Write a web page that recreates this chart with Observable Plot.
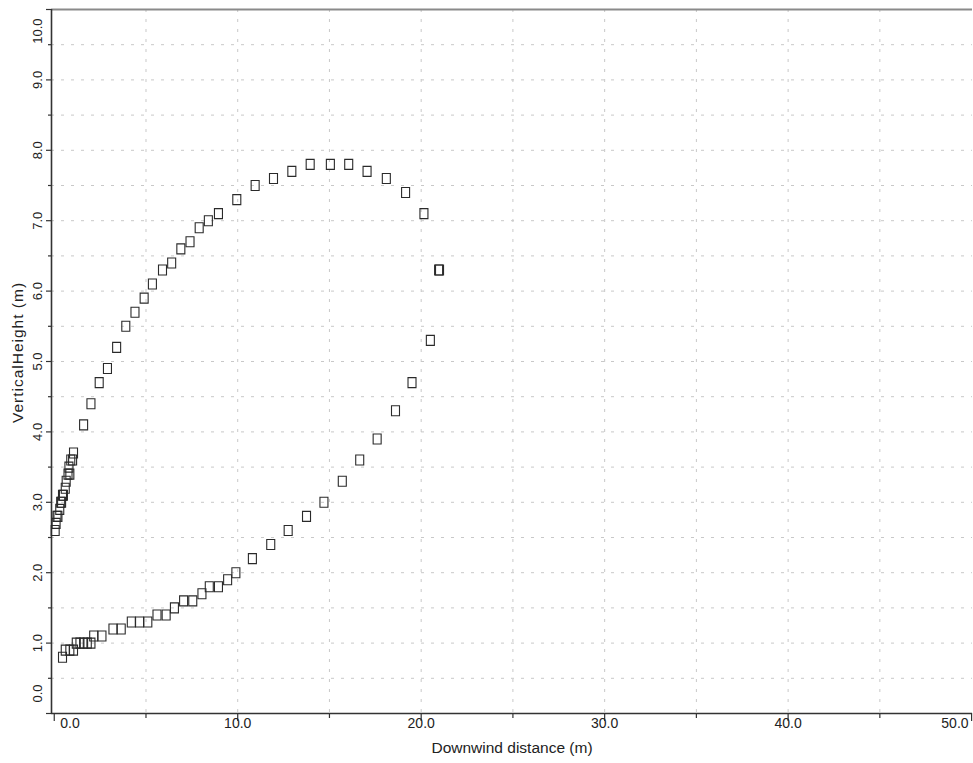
<!DOCTYPE html>
<html>
<head>
<meta charset="utf-8">
<script src="https://cdn.jsdelivr.net/npm/d3@7"></script>
<script src="https://cdn.jsdelivr.net/npm/@observablehq/plot@0.6"></script>
<style>
  html, body { margin: 0; padding: 0; background: #fff; }
  #chart { width: 973px; height: 763px; }
  .ytitle text { letter-spacing: 1px; }
</style>
</head>
<body>
<div id="chart"></div>
<script>
// ---- Data ----
const downwind = [
  0.05, 0.1, 0.15, 0.2, 0.3, 0.35, 0.4, 0.45, 0.5, 0.6, 0.65, 0.75, 0.85, 0.8, 0.9, 1.0, 1.05,
  1.6, 2.0, 2.45, 2.9, 3.4, 3.9, 4.4, 4.9, 5.35, 5.9, 6.4, 6.9, 7.4, 7.9, 8.4, 8.95,
  9.95, 10.95, 11.95, 12.95, 13.95, 15.05, 16.05, 17.05, 18.1, 19.15, 20.15, 20.95, 21.0,
  20.5, 19.5, 18.6, 17.6, 16.65, 15.7, 14.7, 13.75, 12.75, 11.8, 10.8, 9.9,
  9.45, 8.95, 8.45, 8.05, 7.55, 7.05, 6.55, 6.1, 5.6, 5.1, 4.65, 4.2, 3.65, 3.2,
  2.6, 2.15, 2.0, 1.8, 1.6, 1.4, 1.2, 1.05, 0.85, 0.6, 0.45
];
const vertical = [
  2.6, 2.7, 2.8, 2.8, 2.9, 3.0, 3.0, 3.1, 3.1, 3.2, 3.3, 3.4, 3.4, 3.5, 3.6, 3.6, 3.7,
  4.1, 4.4, 4.7, 4.9, 5.2, 5.5, 5.7, 5.9, 6.1, 6.3, 6.4, 6.6, 6.7, 6.9, 7.0, 7.1,
  7.3, 7.5, 7.6, 7.7, 7.8, 7.8, 7.8, 7.7, 7.6, 7.4, 7.1, 6.3, 6.3,
  5.3, 4.7, 4.3, 3.9, 3.6, 3.3, 3.0, 2.8, 2.6, 2.4, 2.2, 2.0,
  1.9, 1.8, 1.8, 1.7, 1.6, 1.6, 1.5, 1.4, 1.4, 1.3, 1.3, 1.3, 1.2, 1.2,
  1.1, 1.1, 1.0, 1.0, 1.0, 1.0, 1.0, 0.9, 0.9, 0.9, 0.8
];

const xTickValues = [0, 10, 20, 30, 40, 50];
const xTickLabels = ["0.0", "10.0", "20.0", "30.0", "40.0", "50.0"];
const xMinorTicks = [5, 15, 25, 35, 45];
const yTickValues = [0, 1, 2, 3, 4, 5, 6, 7, 8, 9, 10];
const yTickLabels = ["0.0", "1.0", "2.0", "3.0", "4.0", "5.0", "6.0", "7.0", "8.0", "9.0", "10.0"];
const yMinorTicks = [0.5, 1.5, 2.5, 3.5, 4.5, 5.5, 6.5, 7.5, 8.5, 9.5];
const xTitle = "Downwind distance (m)";
const yTitle = "VerticalHeight (m)";
const xDomain = [-0.15, 50.05];
const yDomain = [0, 10];

// ---- Build tables ----
const points = downwind.map((x, i) => ({x, y: vertical[i]}));
const xTicks = xTickValues.map((v, i) => ({v, label: xTickLabels[i]}));
const yTicks = yTickValues.map((v, i) => ({v, label: yTickLabels[i]}));
const xGrid = [...xMinorTicks, ...xTickValues.slice(1, -1)];
const yGrid = [...yMinorTicks, ...yTickValues.slice(1, -1)];

const W = 973, H = 763;
const mL = 51, mR = 1, mT = 9, mB = 50;
const plotW = W - mL - mR, plotH = H - mT - mB;

const rectSymbol = {
  draw(context, size) {
    const r = Math.sqrt(size / Math.PI);
    const w = 1.6 * r, h = 2 * r;
    context.moveTo(-w / 2, -h / 2);
    context.lineTo(w / 2, -h / 2);
    context.lineTo(w / 2, h / 2);
    context.lineTo(-w / 2, h / 2);
    context.closePath();
  }
};

const font = "'Liberation Sans', Arial, Helvetica, sans-serif";
const gridStyle = {stroke: "#c8c8c8", strokeWidth: 1, strokeDasharray: "3,7"};

const chart = Plot.plot({
  width: W,
  height: H,
  marginLeft: mL,
  marginRight: mR,
  marginTop: mT,
  marginBottom: mB,
  x: {domain: xDomain, axis: null},
  y: {domain: yDomain, axis: null},
  style: {fontFamily: font, background: "#fff", color: "#222", overflow: "visible"},
  marks: [
    // grid
    Plot.ruleY(yGrid, {y: d => d, ...gridStyle}),
    Plot.ruleX(xGrid, {x: d => d, ...gridStyle}),
    // frame lines
    Plot.ruleY([yDomain[1]], {y: d => d, stroke: "#8a8a8a", strokeWidth: 2}),
    Plot.ruleX([xDomain[0]], {x: d => d, stroke: "#333", strokeWidth: 1.6}),
    Plot.ruleY([yDomain[0]], {y: d => d, stroke: "#333", strokeWidth: 1.6}),
    // x tick marks
    Plot.ruleX(xTickValues, {x: d => d, stroke: "#333", strokeWidth: 1.2, insetTop: plotH, insetBottom: -8}),
    Plot.ruleX(xMinorTicks, {x: d => d, stroke: "#333", strokeWidth: 1.2, insetTop: plotH, insetBottom: -5}),
    // y tick marks
    Plot.ruleY(yTickValues, {y: d => d, stroke: "#333", strokeWidth: 1.2, insetRight: plotW, insetLeft: -5}),
    Plot.ruleY(yMinorTicks, {y: d => d, stroke: "#333", strokeWidth: 1.2, insetRight: plotW, insetLeft: -3}),
    // data
    Plot.dot(points, {x: "x", y: "y", r: 5, symbol: rectSymbol, stroke: "#2a2a2a", fill: "none", strokeWidth: 1.1}),
    // x tick labels
    Plot.text(xTicks.slice(1, -1), {x: "v", text: "label", frameAnchor: "bottom", dy: 14, textAnchor: "middle", fontSize: 14, fill: "#222"}),
    Plot.text(xTicks.slice(0, 1), {x: "v", text: "label", frameAnchor: "bottom", dy: 14, dx: 6, textAnchor: "start", fontSize: 14, fill: "#222"}),
    Plot.text(xTicks.slice(-1), {x: "v", text: "label", frameAnchor: "bottom", dy: 14, dx: -3, textAnchor: "end", fontSize: 14, fill: "#222"}),
    // y tick labels (rotated)
    Plot.text(yTicks.slice(1, -1), {y: "v", text: "label", frameAnchor: "left", dx: -13.5, rotate: -90, textAnchor: "middle", fontSize: 13, fill: "#222"}),
    Plot.text(yTicks.slice(0, 1), {y: "v", text: "label", frameAnchor: "left", dx: -13.5, dy: -11, rotate: -90, textAnchor: "start", fontSize: 13, fill: "#222"}),
    Plot.text(yTicks.slice(-1), {y: "v", text: "label", frameAnchor: "left", dx: -13.5, dy: 9, rotate: -90, textAnchor: "end", fontSize: 13, fill: "#222"}),
    // axis titles
    Plot.text([xTitle], {text: d => d, frameAnchor: "bottom", dy: 39, textAnchor: "middle", fontSize: 15.5, fill: "#222"}),
    Plot.text([yTitle], {text: d => d, frameAnchor: "left", dx: -33, dy: -9, rotate: -90, textAnchor: "middle", fontSize: 15.5, fill: "#222", className: "ytitle"})
  ]
});

document.getElementById("chart").appendChild(chart);
</script>
</body>
</html>
